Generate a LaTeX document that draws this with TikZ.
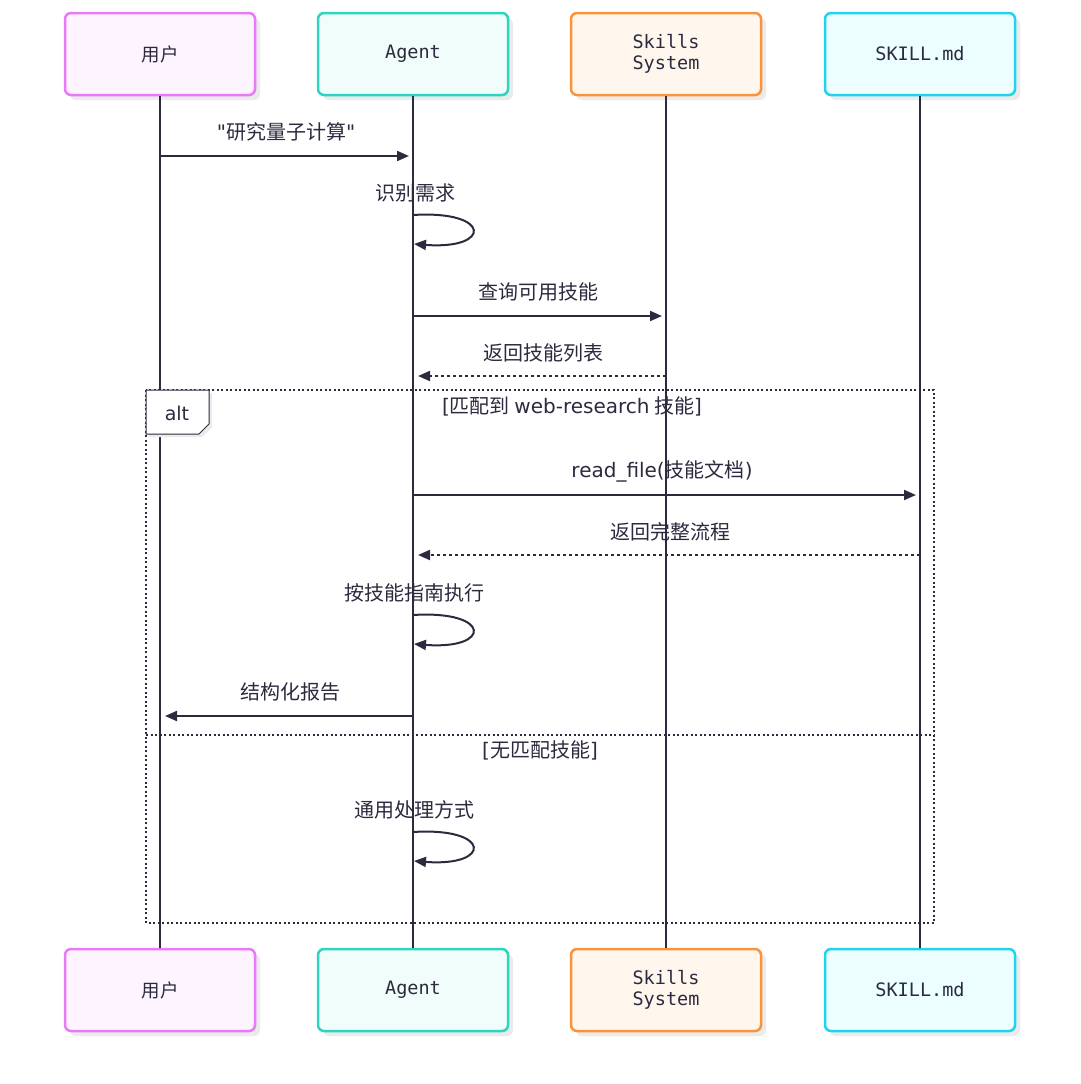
\documentclass[tikz,border=0pt]{standalone}
\usepackage{fontspec}
\newfontfamily\cjk{Noto Sans CJK SC}
\newfontfamily\lat{DejaVu Sans}
\newfontfamily\monofont{DejaVu Sans Mono}
\usetikzlibrary{arrows.meta,shadows}
\definecolor{ink}{HTML}{2B2A3F}
\definecolor{uline}{HTML}{E879F9}
\definecolor{ufill}{HTML}{FDF4FF}
\definecolor{aline}{HTML}{2DD4BF}
\definecolor{afill}{HTML}{F0FDFA}
\definecolor{sline}{HTML}{FB923C}
\definecolor{sfill}{HTML}{FFF7ED}
\definecolor{kline}{HTML}{22D3EE}
\definecolor{kfill}{HTML}{ECFEFF}
\tikzset{
  actor/.style={draw, rounded corners=6pt, line width=2.5pt, minimum width=190pt,
    minimum height=82pt, align=center, text=ink,
    font=\monofont\fontsize{18.5}{21}\selectfont,
    drop shadow={shadow xshift=5pt, shadow yshift=-5pt, fill=black!8, opacity=1}},
  life/.style={ink, line width=2.5pt},
  msg/.style={ink, line width=2pt, -{Triangle[length=12pt,width=10pt]}},
  reply/.style={msg, dash pattern=on 3pt off 3pt},
  lbl/.style={text=ink, font=\cjk\fontsize{20}{22}\selectfont},
  frame/.style={ink, line width=2pt, dash pattern=on 2pt off 2.5pt}
}
\begin{document}
\begin{tikzpicture}[x=1pt, y=-1pt]
    \useasboundingbox (0,0) rectangle (1080,1084);
    \node[actor, draw=uline, fill=ufill, font=\cjk\fontsize{18.5}{21}\selectfont] (u) at (160,54) {用户};
    \node[actor, draw=aline, fill=afill] (a) at (413,54) {Agent};
    \node[actor, draw=sline, fill=sfill] (s) at (666,54) {Skills\\System};
    \node[actor, draw=kline, fill=kfill] (k) at (920,54) {SKILL.md};
    \node[actor, draw=uline, fill=ufill, font=\cjk\fontsize{18.5}{21}\selectfont] (u2) at (160,990) {用户};
    \node[actor, draw=aline, fill=afill] (a2) at (413,990) {Agent};
    \node[actor, draw=sline, fill=sfill] (s2) at (666,990) {Skills\\System};
    \node[actor, draw=kline, fill=kfill] (k2) at (920,990) {SKILL.md};
    \draw[life] (u.south) -- (u2.north)
    (a.south) -- (a2.north)
    (s.south) -- (s2.north)
    (k.south) -- (k2.north);

    % alt frame
    \coordinate (f1) at (146,390);
    \coordinate (f2) at (934,923);
    \draw[frame] (f1) rectangle (f2);
    \coordinate (e1) at (146,735);
    \coordinate (e2) at (934,735);
    \draw[frame] (e1) -- (e2);
    \draw[ink, line width=1pt, fill=white, drop shadow={shadow xshift=3pt, shadow yshift=-3pt, fill=black!8, opacity=1}]
    (146,390) -- (209,390) -- (209,424) -- (199,434) -- (146,434) -- cycle;
    \node[lbl, font=\lat\fontsize{19}{21}\selectfont] (alt) at (177,413) {alt};
    \node[lbl] (c1) at (572,406) {{\lat[}匹配到 {\lat web-research} 技能{\lat]}};
    \node[lbl] (c2) at (540,750) {{\lat[}无匹配技能{\lat]}};

    % messages
    \coordinate (m1s) at (160,156);
    \coordinate (m1e) at (409,156);
    \node[lbl] (t1) at (286,132) {{\lat"}研究量子计算{\lat"}};
    \draw[msg] (m1s) -- (m1e);

    \coordinate (l1a) at (413,215);
    \coordinate (l1b) at (414,244);
    \node[lbl] (t2) at (415,193) {识别需求};
    \draw[msg] (l1a) .. controls (492,210) and (492,250) .. (l1b);

    \coordinate (m3s) at (413,316);
    \coordinate (m3e) at (662,316);
    \node[lbl] (t3) at (538,292) {查询可用技能};
    \draw[msg] (m3s) -- (m3e);

    \coordinate (m4s) at (666,376);
    \coordinate (m4e) at (418,376);
    \node[lbl] (t4) at (543,353) {返回技能列表};
    \draw[reply] (m4s) -- (m4e);

    \coordinate (m5s) at (413,495);
    \coordinate (m5e) at (916,495);
    \node[lbl] (t5) at (662,471) {{\lat read\_file(}技能文档{\lat)}};
    \draw[msg] (m5s) -- (m5e);

    \coordinate (m6s) at (920,555);
    \coordinate (m6e) at (418,555);
    \node[lbl] (t6) at (670,532) {返回完整流程};
    \draw[reply] (m6s) -- (m6e);

    \coordinate (l2a) at (413,615);
    \coordinate (l2b) at (414,644);
    \node[lbl] (t7) at (414,593) {按技能指南执行};
    \draw[msg] (l2a) .. controls (492,610) and (492,650) .. (l2b);

    \coordinate (m8s) at (413,716);
    \coordinate (m8e) at (165,716);
    \node[lbl] (t8) at (290,692) {结构化报告};
    \draw[msg] (m8s) -- (m8e);

    \coordinate (l3a) at (413,832);
    \coordinate (l3b) at (414,861);
    \node[lbl] (t9) at (414,810) {通用处理方式};
    \draw[msg] (l3a) .. controls (492,827) and (492,867) .. (l3b);
\end{tikzpicture}
\end{document}
